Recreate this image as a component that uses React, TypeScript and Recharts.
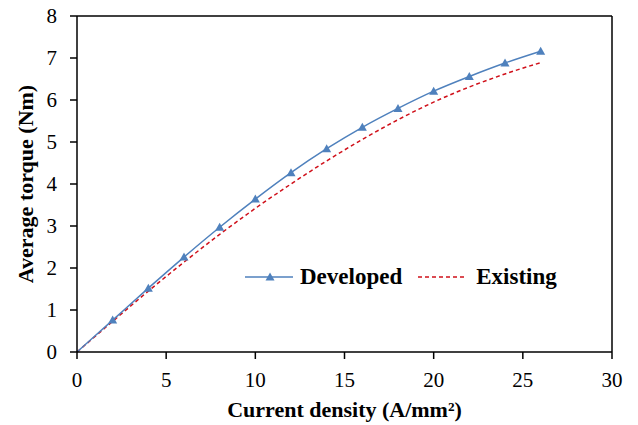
import React from "react";
import {
  LineChart,
  Line,
  XAxis,
  YAxis,
  Legend,
  ReferenceLine,
} from "recharts";

const currentDensity = [0, 2, 4, 6, 8, 10, 12, 14, 16, 18, 20, 22, 24, 26];
const developed = [0, 0.76, 1.52, 2.26, 2.97, 3.64, 4.27, 4.84, 5.35, 5.8, 6.21, 6.56, 6.88, 7.16];
const existing = [0, 0.73, 1.45, 2.14, 2.8, 3.42, 4.0, 4.55, 5.06, 5.53, 5.95, 6.31, 6.62, 6.89];

const xTicks = [0, 5, 10, 15, 20, 25, 30];
const yTicks = [0, 1, 2, 3, 4, 5, 6, 7, 8];

const BLUE = "#4F81BD";
const RED = "#D0101A";
const FONT = "'Liberation Serif', 'Times New Roman', serif";

const data = currentDensity.map((x, i) => ({
  x,
  developed: developed[i],
  existing: existing[i],
}));

// eslint-disable-next-line @typescript-eslint/no-explicit-any
function TriangleDot({ cx, cy, payload }: any) {
  if (cx == null || cy == null || payload?.x === 0) return null;
  return (
    <path
      d={`M${cx},${cy - 4.5} L${cx + 4.5},${cy + 3.5} L${cx - 4.5},${cy + 3.5} Z`}
      fill={BLUE}
    />
  );
}

function LegendContent() {
  return (
    <div
      style={{
        display: "flex",
        alignItems: "center",
        fontFamily: FONT,
        fontWeight: "bold",
        fontSize: 23,
        color: "#000",
        whiteSpace: "nowrap",
      }}
    >
      <svg width={49} height={12}>
        <line x1={0} y1={6} x2={48} y2={6} stroke={BLUE} strokeWidth={1.5} />
        <path d="M25,1.5 L29.5,9.5 L20.5,9.5 Z" fill={BLUE} />
      </svg>
      <span style={{ marginLeft: 6 }}>Developed</span>
      <svg width={48} height={12} style={{ marginLeft: 16 }}>
        <line
          x1={0}
          y1={6}
          x2={48}
          y2={6}
          stroke={RED}
          strokeWidth={1.5}
          strokeDasharray="4 3"
        />
      </svg>
      <span style={{ marginLeft: 10 }}>Existing</span>
    </div>
  );
}

export default function App() {
  const tickStyle = { fill: "#000", fontSize: 21, fontFamily: FONT };
  return (
    <div style={{ position: "absolute", left: 0, top: 0, background: "#fff" }}>
      <LineChart
        width={638}
        height={425}
        data={data}
        margin={{ top: 16, right: 26, bottom: 0, left: 0 }}
      >
        <XAxis
          dataKey="x"
          type="number"
          domain={[0, 30]}
          ticks={xTicks}
          tick={tickStyle}
          tickSize={7}
          tickMargin={13}
          height={73}
          axisLine={{ stroke: "#000", strokeWidth: 1.5 }}
          tickLine={{ stroke: "#000", strokeWidth: 1.5 }}
          label={{
            value: "Current density (A/mm²)",
            position: "insideBottom",
            offset: 8,
            style: { fill: "#000", fontSize: 22, fontWeight: "bold", fontFamily: FONT },
          }}
        />
        <YAxis
          type="number"
          domain={[0, 8]}
          ticks={yTicks}
          tick={tickStyle}
          tickSize={7}
          tickMargin={13}
          width={77}
          axisLine={{ stroke: "#000", strokeWidth: 1.5 }}
          tickLine={{ stroke: "#000", strokeWidth: 1.5 }}
          label={{
            value: "Average torque (Nm)",
            angle: -90,
            position: "insideLeft",
            offset: 25,
            style: {
              fill: "#000",
              fontSize: 22,
              fontWeight: "bold",
              fontFamily: FONT,
              textAnchor: "middle",
            },
          }}
        />
        <ReferenceLine y={8} stroke="#000" strokeWidth={1.5} />
        <ReferenceLine x={30} stroke="#000" strokeWidth={1.5} />
        <Legend
          layout="horizontal"
          verticalAlign="middle"
          content={<LegendContent />}
          wrapperStyle={{ position: "absolute", left: 245, top: 264, width: "auto" }}
        />
        <Line
          type="monotone"
          dataKey="existing"
          stroke={RED}
          strokeWidth={1.5}
          strokeDasharray="4 3"
          dot={false}
          isAnimationActive={false}
        />
        <Line
          type="monotone"
          dataKey="developed"
          stroke={BLUE}
          strokeWidth={1.5}
          dot={<TriangleDot />}
          isAnimationActive={false}
        />
      </LineChart>
    </div>
  );
}
